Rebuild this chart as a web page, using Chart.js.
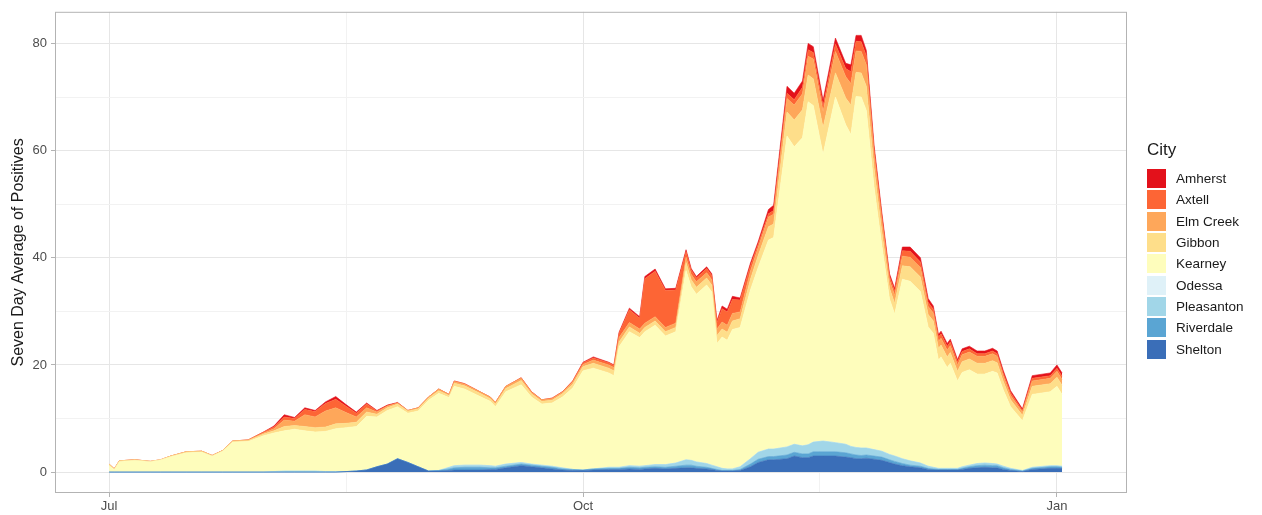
<!DOCTYPE html>
<html>
<head>
<meta charset="utf-8">
<script src="https://cdn.jsdelivr.net/npm/chart.js@4"></script>
<style>
  body { margin:0; background:#fff; font-family:"Liberation Sans", Arial, sans-serif; }
  #wrap { position:relative; width:1262px; height:515px; }
  #legend { position:absolute; left:1147px; top:140px; color:#1a1a1a; }
  #legend .ttl { font-size:17px; margin-bottom:8px; }
  #legend .row { display:flex; align-items:center; height:21.3px; font-size:13.5px; }
  #legend .sw { width:19px; height:19px; margin-right:10px; }
</style>
</head>
<body>
<div id="wrap">
  <canvas id="c" width="1262" height="515"></canvas>
  <div id="legend"></div>
</div>
<script>
// days since Jul 1
const days = [0,1,2,5,8,10,12,15,18,20,22,24,27,30,32,34,36,38,40,42,44,46,48,50,52,54,56,58,60,62,64,66,67,69,72,74,75,77,80,82,84,86,88,90,92,94,97,98,99,101,103,104,106,108,110,112,113,114,116,117,118,119,120,121,122.5,124.5,126,128,129,131.6,133,134.6,135.7,136.7,138.6,141,143,144,145,146,147,148.5,150,151.5,152.5,154,155.5,157.5,159,160,161,161.5,162.7,163.3,164.7,165.6,167,168.5,170,171.5,172.4,173.6,175,177.3,179.2,182.7,184,185];

const shelton    = [0,0,0,0,0,0,0,0,0,0,0,0,0,0,0,0,0,0,0,0,0,0.1,0.2,0.4,1,1.5,2.5,1.8,1,0.2,0.2,0.3,0.4,0.4,0.4,0.5,0.5,0.8,1.2,1,0.8,0.6,0.4,0.3,0.3,0.4,0.5,0.5,0.5,0.6,0.5,0.6,0.7,0.6,0.7,0.8,0.8,0.7,0.6,0.5,0.3,0.2,0.2,0.2,0.3,1,1.8,2.3,2.3,2.5,3,2.7,2.7,3,3,3,2.8,2.7,2.5,2.5,2.6,2.4,2.2,1.8,1.5,1.2,1,0.8,0.5,0.4,0.4,0.4,0.4,0.4,0.4,0.5,0.7,0.8,0.9,0.8,0.8,0.5,0.3,0.1,0.5,0.7,0.7,0.7];
const riverdale  = [0,0,0,0,0,0,0,0,0,0,0,0,0,0,0,0,0,0,0,0,0,0,0,0,0,0,0,0,0,0,0.1,0.3,0.4,0.5,0.5,0.3,0.3,0.3,0.3,0.3,0.3,0.3,0.2,0.2,0.1,0.2,0.2,0.2,0.2,0.3,0.3,0.3,0.3,0.3,0.4,0.5,0.5,0.4,0.3,0.2,0.2,0.1,0.1,0.1,0.2,0.5,0.6,0.6,0.6,0.7,0.7,0.7,0.7,0.8,0.8,0.8,0.8,0.7,0.7,0.6,0.6,0.6,0.6,0.5,0.5,0.4,0.3,0.3,0.2,0.2,0.1,0.1,0.1,0.1,0.1,0.2,0.3,0.4,0.4,0.4,0.4,0.3,0.2,0.1,0.2,0.3,0.3,0.2];
const pleasanton = [0,0,0,0,0,0,0,0,0,0,0,0,0,0,0.1,0.2,0.2,0.2,0.2,0.1,0.1,0,0,0,0,0,0,0,0,0,0,0.3,0.4,0.4,0.4,0.4,0.3,0.4,0.3,0.2,0.2,0.2,0.2,0,0,0,0.2,0.2,0.2,0.3,0.3,0.3,0.4,0.5,0.6,1,0.9,0.8,0.7,0.6,0.5,0.4,0.3,0.3,0.5,1,1.3,1.4,1.4,1.5,1.5,1.5,1.7,1.8,2,1.7,1.6,1.4,1.4,1.4,1.3,1.2,1.1,1,1,0.9,0.8,0.6,0.4,0.3,0.2,0.2,0.2,0.2,0.2,0.3,0.3,0.4,0.4,0.4,0.3,0.3,0.2,0.1,0.2,0.2,0.2,0.2];
const odessa     = [0,0,0,0,0,0,0,0,0,0,0,0,0,0,0,0,0,0,0,0,0,0,0,0,0,0,0,0,0,0,0,0,0,0,0,0,0,0,0,0,0,0,0,0,0,0,0,0,0,0,0,0,0,0,0,0,0,0,0,0,0,0,0,0,0,0,0,0,0,0,0,0,0,0,0,0,0,0,0,0,0,0,0,0,0,0,0,0,0,0,0,0,0,0,0,0,0,0,0,0,0,0,0,0,0,0,0,0];
const kearney    = [1.2,0.5,2,2.2,2,2.3,2.9,3.6,3.7,3,3.9,5.6,5.7,6.8,7.2,7.5,7.8,7.5,7.3,7.5,8,8.2,8.3,10,9.3,10,9.7,9.2,10.4,13.2,14.4,13,14.8,14.2,12.8,12,11.1,13.5,14.5,12.5,11.4,11.8,13.2,15.2,18.5,18.8,17.6,17.1,22.5,25,24,25,26,24,24.5,35.3,32.4,31.3,33.3,32.3,23,24.5,24,26,26,31.5,34.5,39,39.5,58,55.5,57.5,64,62.8,53.5,64.5,59.6,58.2,65.5,65.5,63,49,38.5,29,26.5,33.5,33.5,32,26,25,20.2,20.8,18.8,19.6,16.3,17.6,17.8,16.7,16.6,17.2,17,14.2,11.5,9.3,13.6,13.8,14.8,13.4];
const gibbon     = [0.3,0.1,0.1,0.1,0,0,0.1,0.2,0.2,0.1,0.1,0.2,0.2,0.3,0.4,0.8,0.7,0.8,0.8,0.8,0.9,0.8,0.8,0.8,0.5,0.5,0.5,0.4,0.4,0.4,0.5,0.4,0.6,0.6,0.6,0.5,0.5,0.6,0.8,0.6,0.5,0.5,0.6,0.7,0.8,0.9,0.9,0.9,0.9,0.9,0.8,0.8,0.8,0.8,0.8,1.5,1.3,1.3,1.3,1.3,1.5,1.5,1.5,1.6,1.6,2,2.2,2.5,2.5,4.5,5,5.2,5,5,5,4.5,5,5.5,4.5,4.5,4.5,3.5,2.5,2,2,2.5,2.7,2.7,2.3,2.3,2.2,2.2,2,2,1.8,2,2,2,2,2,1.9,1.6,1.3,1,1.5,1.5,1.7,1.7];
const elmCreek   = [0,0,0,0,0,0,0,0,0,0,0,0,0.1,0.2,0.4,1.2,0.8,2.2,2,3,3,2,1,0.8,0.4,0.3,0.2,0.1,0.2,0.2,0.3,0.2,0.3,0.3,0.3,0.3,0.3,0.4,0.4,0.3,0.3,0.3,0.3,0.4,0.4,0.6,0.6,0.6,0.8,0.8,0.8,0.8,0.8,0.8,0.8,1,1,1,1,1,1.2,1.3,1.3,1.4,1.3,1.5,1.5,1.8,1.8,2.5,2.8,3,3.5,3.7,3,4,4,4,4,4,4,2.5,2,1.5,1.5,1.8,1.8,1.8,1.5,1.5,1.3,1.3,1.3,1.3,1.2,1.3,1.3,1.3,1.3,1.3,1.2,1,0.8,0.6,1,1,1.1,1.1];
const axtell     = [0,0,0,0,0,0,0,0,0,0,0,0,0,0.2,0.3,0.6,0.5,1,1,1.4,1.6,1.2,0.7,0.7,0.2,0.1,0,0,0,0,0,0,0.1,0.1,0,0,0,0,0.1,0.1,0,0.1,0.1,0.2,0.3,0.4,0.4,0.4,0.8,2.4,2,8.3,8.5,6.9,6.2,1,0.8,0.7,0.8,0.8,1.2,2.5,2.5,2.6,2.2,1,0.6,0.6,0.7,1,1,1.2,1.2,1.2,1,1.4,1.5,2.2,1.8,1.8,1.7,1,1,0.7,0.8,1,1.1,1,0.8,0.7,0.8,0.8,0.7,0.7,0.6,0.6,0.6,0.5,0.5,0.5,0.5,0.5,0.5,0.3,0.5,0.5,0.6,0.6];
const amherst    = [0,0,0,0,0,0,0,0,0,0,0,0,0,0,0.2,0.4,0.2,0.3,0.2,0.3,0.5,0.3,0.2,0.2,0.1,0.1,0.1,0,0,0,0,0,0,0,0,0,0,0,0,0,0,0,0,0,0.1,0.2,0.1,0.1,0.2,0.3,0.3,0.4,0.4,0.3,0.3,0.4,0.3,0.3,0.3,0.3,0.4,0.5,0.5,0.6,0.4,0.5,0.5,0.8,1,1.3,1.2,1.2,1.2,1.1,1.1,1.1,1,1.3,1.1,1.2,1,0.8,0.6,0.5,0.5,0.7,0.8,0.8,0.7,0.6,0.5,0.5,0.5,0.5,0.4,0.5,0.5,0.5,0.5,0.5,0.5,0.5,0.4,0.3,0.5,0.5,0.6,0.6];

const cities = ["Amherst","Axtell","Elm Creek","Gibbon","Kearney","Odessa","Pleasanton","Riverdale","Shelton"];
const colors = ["#e3111b","#fd6535","#fea75a","#fede8a","#fefdbc","#dff1f8","#a1d6e8","#5aa5d3","#3a6eb8"];
const series = [amherst, axtell, elmCreek, gibbon, kearney, odessa, pleasanton, riverdale, shelton];

const xTicks = [0, 46, 92, 138, 184];
const xLabels = { 0: "Jul", 92: "Oct", 184: "Jan" };

// bottom of stack first (Shelton)
const datasets = [];
for (let i = series.length - 1; i >= 0; i--) {
  datasets.push({
    label: cities[i],
    data: days.map((d, j) => ({ x: d, y: series[i][j] })),
    backgroundColor: colors[i],
    borderColor: colors[i],
    borderWidth: 0.6,
    fill: datasets.length === 0 ? "origin" : "-1",
    pointRadius: 0,
    tension: 0,
  });
}

const panelBorder = {
  id: "panelBorder",
  afterDraw(chart) {
    const { ctx, chartArea: a } = chart;
    ctx.save();
    ctx.strokeStyle = "#b3b3b3";
    ctx.lineWidth = 1;
    ctx.strokeRect(a.left + 0.5, a.top + 0.5, a.width - 1, a.height - 1);
    ctx.restore();
  }
};

new Chart(document.getElementById("c"), {
  type: "line",
  data: { datasets },
  options: {
    responsive: false,
    animation: false,
    layout: { padding: { top: 0, right: 135, left: 0, bottom: 0 } },
    plugins: { legend: { display: false }, tooltip: { enabled: false } },
    scales: {
      x: {
        type: "linear",
        min: -10.5, max: 197.6,
        afterBuildTicks: s => { s.ticks = xTicks.map(v => ({ value: v })); },
        afterFit: s => { s.height = 22; },
        grid: {
          color: c => xLabels[c.tick.value] ? "#e6e6e6" : "#f2f2f2",
          tickLength: 4, tickColor: c => xLabels[c.tick.value] ? "#b3b3b3" : "rgba(0,0,0,0)",
        },
        border: { display: false },
        ticks: {
          autoSkip: false, maxRotation: 0, padding: 2,
          color: "#4d4d4d", font: { family: "Liberation Sans", size: 13 },
          callback: v => xLabels[v] || "",
        },
      },
      y: {
        stacked: true,
        min: -3.9, max: 85.9,
        afterBuildTicks: s => { s.ticks = [0,10,20,30,40,50,60,70,80].map(v => ({ value: v })); },
        afterFit: s => { s.width = 55; },
        grid: {
          color: c => c.tick.value % 20 === 0 ? "#e6e6e6" : "#f2f2f2",
          tickLength: 4, tickColor: c => c.tick.value % 20 === 0 ? "#b3b3b3" : "rgba(0,0,0,0)",
        },
        border: { display: false },
        title: { display: true, text: "Seven Day Average of Positives", color: "#1a1a1a",
          font: { family: "Liberation Sans", size: 16 }, padding: { top: 9, bottom: 0 } },
        ticks: {
          color: "#4d4d4d", font: { family: "Liberation Sans", size: 13 }, padding: 4,
          callback: v => v % 20 === 0 ? v : "",
        },
      },
    },
  },
  plugins: [panelBorder],
});

const lg = document.getElementById("legend");
lg.innerHTML = '<div class="ttl">City</div>' +
  cities.map((c, i) => `<div class="row"><div class="sw" style="background:${colors[i]}"></div>${c}</div>`).join("");
</script>
</body>
</html>
